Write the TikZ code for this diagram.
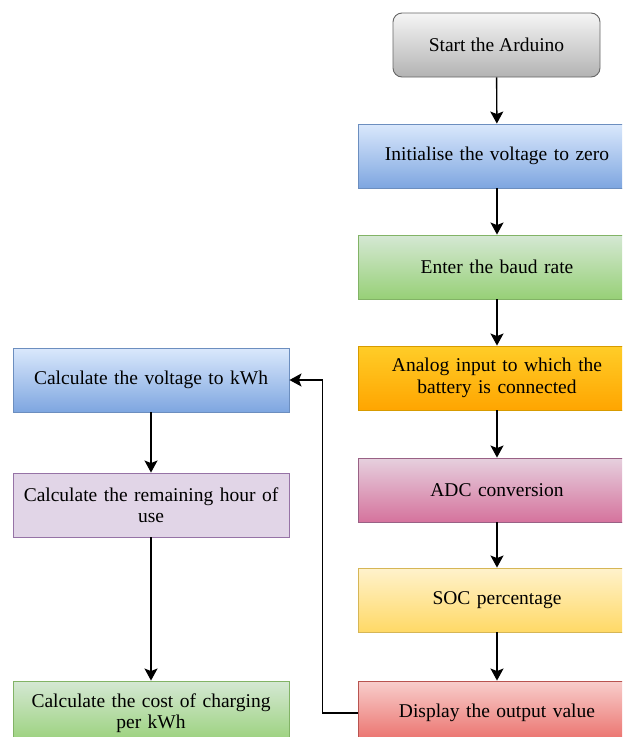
\documentclass[tikz,border=0pt]{standalone}
\usepackage{fontspec}
\setmainfont{Liberation Serif}
\usetikzlibrary{arrows.meta,calc}
\definecolor{grayA}{HTML}{F5F5F5}\definecolor{grayB}{HTML}{B3B3B3}\definecolor{grayS}{HTML}{666666}
\definecolor{blueA}{HTML}{DAE8FC}\definecolor{blueB}{HTML}{7EA6E0}\definecolor{blueS}{HTML}{6C8EBF}
\definecolor{greenA}{HTML}{D5E8D4}\definecolor{greenB}{HTML}{97D077}\definecolor{greenS}{HTML}{82B366}
\definecolor{orangeA}{HTML}{FFCD28}\definecolor{orangeB}{HTML}{FFA500}\definecolor{orangeS}{HTML}{D79B00}
\definecolor{pinkA}{HTML}{E6D0DE}\definecolor{pinkB}{HTML}{D5739D}\definecolor{pinkS}{HTML}{996185}
\definecolor{yellowA}{HTML}{FFF2CC}\definecolor{yellowB}{HTML}{FFD966}\definecolor{yellowS}{HTML}{D6B656}
\definecolor{redA}{HTML}{F8CECC}\definecolor{redB}{HTML}{EA6B66}\definecolor{redS}{HTML}{B85450}
\definecolor{purpleA}{HTML}{E1D5E7}\definecolor{purpleS}{HTML}{9673A6}
\tikzset{
  box/.style={minimum height=64pt, inner sep=2pt, align=center, font=\fontsize{19.5}{21.5}\selectfont, line width=0.9pt},
  rbox/.style={box, minimum width=278pt, text width=270pt},
  lbox/.style={box, minimum width=276pt, text width=270pt},
  grad/.style n args={3}{top color=#1, bottom color=#2, draw=#3},
  arr/.style={line width=1.4pt, -{Stealth[length=12pt,width=13pt,inset=2.5pt]}},
}
\begin{document}
\begin{tikzpicture}[x=1pt,y=-1pt]
\useasboundingbox (0,0) rectangle (622,737);
\clip (0,0) rectangle (622,737);
\node[box, minimum width=207pt, rounded corners=9pt, grad={grayA}{grayB}{grayS}] (start) at (496.5,45) {Start the Arduino};
\node[rbox, grad={blueA}{blueB}{blueS}] (init) at (497,156) {Initialise the voltage to zero};
\node[rbox, grad={greenA}{greenB}{greenS}] (baud) at (497,267) {Enter the baud rate};
\node[rbox, grad={orangeA}{orangeB}{orangeS}] (analog) at (497,378) {Analog input to which the\\battery is connected};
\node[rbox, grad={pinkA}{pinkB}{pinkS}] (adc) at (497,490) {ADC conversion};
\node[rbox, grad={yellowA}{yellowB}{yellowS}] (soc) at (497,600) {SOC percentage};
\node[rbox, grad={redA}{redB}{redS}] (disp) at (497,713) {Display the output value};
\node[lbox, grad={blueA}{blueB}{blueS}] (kwh) at (151,380) {Calculate the voltage to kWh};
\node[lbox, fill=purpleA, draw=purpleS] (hour) at (151,505) {Calculate the remaining hour of\\use};
\node[lbox, grad={greenA}{greenB}{greenS}] (cost) at (151,713) {Calculate the cost of charging\\per kWh};
\draw[arr] (start) -- (init);
\draw[arr] (init) -- (baud);
\draw[arr] (baud) -- (analog);
\draw[arr] (analog) -- (adc);
\draw[arr] (adc) -- (soc);
\draw[arr] (soc) -- (disp);
\draw[arr] (kwh) -- (hour);
\draw[arr] (hour) -- (cost);
\draw[arr] (disp.west) -- ++(-35,0) |- (kwh.east);
\end{tikzpicture}
\end{document}
